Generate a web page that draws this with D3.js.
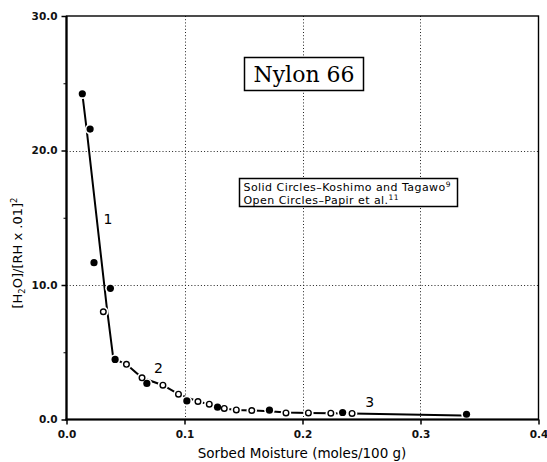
<!DOCTYPE html>
<html>
<head>
<meta charset="utf-8">
<script src="https://cdn.jsdelivr.net/npm/d3@7"></script>
<style>
  body { margin: 0; background: #fff; }
  svg { display: block; }
</style>
</head>
<body>
<svg id="chart" width="547" height="462"></svg>
<script>
// Axis ticks
const xTicks = [0, 0.1, 0.2, 0.3, 0.4];
const yTicks = [0, 10, 20, 30];
const yMinorTicks = [5, 15, 25];

// Solid circles – Koshimo and Tagawo
const solidX = [0.0134, 0.0200, 0.0233, 0.0372, 0.0412, 0.0681, 0.1020, 0.1280, 0.1720, 0.2340, 0.3390];
const solidY = [24.22, 21.59, 11.66, 9.75, 4.47, 2.68, 1.38, 0.92, 0.69, 0.52, 0.39];

// Open circles – Papir et al.
const openX = [0.0312, 0.0508, 0.0640, 0.0817, 0.0949, 0.1114, 0.1210, 0.1337, 0.1439, 0.1570, 0.1860, 0.2050, 0.2240, 0.2420];
const openY = [8.01, 4.10, 3.10, 2.55, 1.88, 1.34, 1.14, 0.82, 0.71, 0.67, 0.49, 0.49, 0.47, 0.45];

// Hand-fitted trend line through regions 1, 2 and 3
const trendX = [0.0134, 0.0170, 0.0340, 0.0395, 0.0412, 0.0508, 0.0640, 0.0817, 0.0949, 0.1114, 0.1210, 0.1337, 0.1439, 0.1570, 0.1720, 0.1860, 0.2050, 0.2240, 0.2420, 0.3350];
const trendY = [24.22, 21.62, 8.44, 4.64, 4.47, 4.10, 3.10, 2.55, 1.88, 1.34, 1.14, 0.82, 0.71, 0.67, 0.62, 0.52, 0.49, 0.47, 0.45, 0.30];

// Region labels placed along the curve
const regionLabels = ["1", "2", "3"];
const regionX = [0.0352, 0.0780, 0.2570];
const regionY = [14.5, 3.46, 0.95];

const svg = d3.select("#chart");
const x = d3.scaleLinear().domain([0, 0.4]).range([66.5, 538.5]);
const y = d3.scaleLinear().domain([0, 30]).range([419.5, 16]);

const sans = "'DejaVu Sans', Verdana, sans-serif";

// Dotted grid
const grid = svg.append("g").attr("stroke", "#222").attr("stroke-width", 1)
  .attr("stroke-dasharray", "1,2.2").attr("fill", "none");
grid.selectAll("line.gx").data(xTicks.slice(1, -1)).join("line")
  .attr("x1", d => Math.round(x(d)) + 0.5).attr("x2", d => Math.round(x(d)) + 0.5)
  .attr("y1", y(30)).attr("y2", y(0));
grid.selectAll("line.gy").data(yTicks.slice(1, -1)).join("line")
  .attr("x1", x(0)).attr("x2", x(0.4))
  .attr("y1", d => Math.round(y(d)) + 0.5).attr("y2", d => Math.round(y(d)) + 0.5);

// Title box
const title = svg.append("g");
title.append("rect").attr("x", 244.5).attr("y", 57.5).attr("width", 119).attr("height", 33)
  .attr("fill", "#fff").attr("stroke", "#000").attr("stroke-width", 1.5);
title.append("text").attr("x", 304).attr("y", 82).attr("text-anchor", "middle")
  .attr("font-family", "'DejaVu Serif', serif").attr("font-size", 22).text("Nylon 66");

// Legend box
const legend = svg.append("g").attr("font-family", sans).attr("font-size", 11)
  .attr("letter-spacing", 0.45);
legend.append("rect").attr("x", 239.5).attr("y", 178.5).attr("width", 218).attr("height", 28)
  .attr("fill", "#fff").attr("stroke", "#000").attr("stroke-width", 1.5);
const l1 = legend.append("text").attr("x", 243.5).attr("y", 191);
l1.append("tspan").text("Solid Circles\u2013Koshimo and Tagawo");
l1.append("tspan").attr("font-size", 7.5).attr("dy", -4.5).text("9");
const l2 = legend.append("text").attr("x", 243.5).attr("y", 204);
l2.append("tspan").text("Open Circles\u2013Papir et al.");
l2.append("tspan").attr("font-size", 7.5).attr("dy", -4.5).text("11");

// Trend line
const line = d3.line().x(d => x(d[0])).y(d => y(d[1]));
svg.append("path").datum(d3.zip(trendX, trendY))
  .attr("d", line).attr("fill", "none").attr("stroke", "#000").attr("stroke-width", 2);

// White halos break the line around each marker
const allPts = d3.zip(solidX, solidY).concat(d3.zip(openX, openY));
svg.append("g").selectAll("circle").data(allPts).join("circle")
  .attr("cx", d => x(d[0])).attr("cy", d => y(d[1])).attr("r", 5.2).attr("fill", "#fff");

// Markers
svg.append("g").selectAll("circle").data(d3.zip(openX, openY)).join("circle")
  .attr("cx", d => x(d[0])).attr("cy", d => y(d[1])).attr("r", 2.8)
  .attr("fill", "#fff").attr("stroke", "#000").attr("stroke-width", 1.4);
svg.append("g").selectAll("circle").data(d3.zip(solidX, solidY)).join("circle")
  .attr("cx", d => x(d[0])).attr("cy", d => y(d[1])).attr("r", 3.6).attr("fill", "#000");

// Region numbers
svg.append("g").attr("font-family", sans).attr("font-size", 14)
  .selectAll("text").data(d3.zip(regionLabels, regionX, regionY)).join("text")
  .attr("x", d => x(d[1])).attr("y", d => y(d[2])).attr("text-anchor", "middle")
  .text(d => d[0]);

// Axes
const xAxis = svg.append("g").attr("transform", `translate(0,${y(0)})`)
  .call(d3.axisBottom(x).tickValues(xTicks).tickFormat(d3.format(".1f")).tickSize(5).tickPadding(6));
const yAxis = svg.append("g").attr("transform", `translate(${x(0)},0)`)
  .call(d3.axisLeft(y).tickValues(yTicks).tickFormat(d3.format(".1f")).tickSize(5).tickPadding(4));
svg.append("g").attr("transform", `translate(${x(0)},0)`)
  .call(d3.axisLeft(y).tickValues(yMinorTicks).tickFormat("").tickSize(3))
  .call(g => g.select(".domain").remove());
[xAxis, yAxis].forEach(g => {
  g.select(".domain").remove();
  g.selectAll(".tick line").attr("stroke", "#000").attr("stroke-width", 1.5);
  g.selectAll(".tick text").attr("font-family", sans).attr("font-weight", "bold")
    .attr("font-size", 10.5).attr("fill", "#111");
});

// Frame
svg.append("rect").attr("x", x(0)).attr("y", y(30)).attr("width", x(0.4) - x(0)).attr("height", y(0) - y(30))
  .attr("fill", "none").attr("stroke", "#000").attr("stroke-width", 1.4);
svg.append("line").attr("x1", x(0)).attr("x2", x(0)).attr("y1", y(30)).attr("y2", y(0) + 1)
  .attr("stroke", "#000").attr("stroke-width", 2.2);
svg.append("line").attr("x1", x(0) - 1).attr("x2", x(0.4)).attr("y1", y(0)).attr("y2", y(0))
  .attr("stroke", "#000").attr("stroke-width", 2.2);

// Axis titles
svg.append("text").attr("x", 302).attr("y", 458).attr("text-anchor", "middle")
  .attr("font-family", sans).attr("font-size", 13.5).text("Sorbed Moisture (moles/100 g)");
const yt = svg.append("text").attr("transform", "translate(22,253) rotate(-90)")
  .attr("text-anchor", "middle").attr("font-family", sans).attr("font-size", 13);
yt.append("tspan").text("[H");
yt.append("tspan").attr("font-size", 8.5).attr("dy", 3).text("2");
yt.append("tspan").attr("dy", -3).text("O]/[RH x .01]");
yt.append("tspan").attr("font-size", 8.5).attr("dy", -5).text("2");
</script>
</body>
</html>
